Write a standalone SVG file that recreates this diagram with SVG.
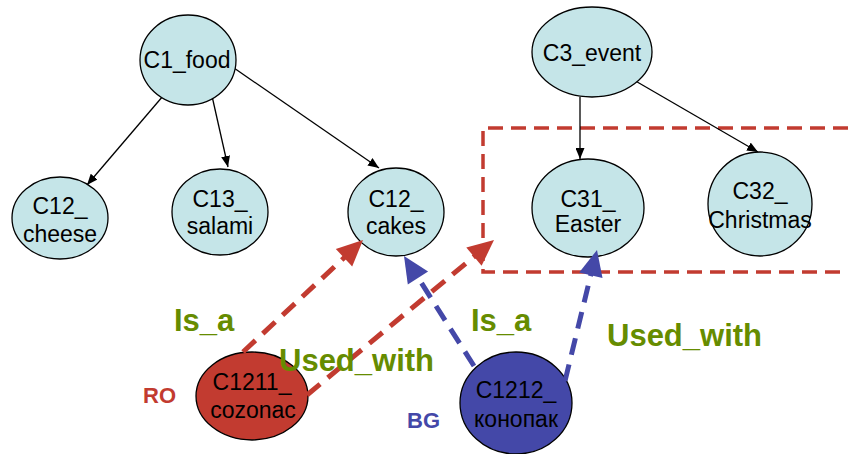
<svg xmlns="http://www.w3.org/2000/svg" width="848" height="454" viewBox="0 0 848 454">
<defs>
<marker id="blk" markerUnits="userSpaceOnUse" markerWidth="11" markerHeight="9" refX="11" refY="4.5" orient="auto">
<path d="M0,0 L11,4.5 L0,9 z" fill="#000"/>
</marker>
<style>
.n{fill:#C5E5E8;stroke:#000;stroke-width:1.3}
.nr{fill:#C23B30;stroke:#000;stroke-width:1.3}
.nb{fill:#4448A8;stroke:#000;stroke-width:1.3}
.t{font-family:"Liberation Sans",Arial,sans-serif;font-size:23px;fill:#000;text-anchor:middle}
.e{stroke:#000;stroke-width:1.3;fill:none;marker-end:url(#blk)}
.dr{stroke:#C23B30;stroke-width:5;fill:none;stroke-dasharray:17 10}
.db{stroke:#4448A8;stroke-width:5;fill:none;stroke-dasharray:17 10}
.hr{fill:#C23B30}
.hb{fill:#4448A8}
.lab{font-family:"Liberation Sans",Arial,sans-serif;font-weight:bold;font-size:31px;fill:#668C00}
.lang{font-family:"Liberation Sans",Arial,sans-serif;font-weight:bold;font-size:22px}
</style>
</defs>
<rect width="848" height="454" fill="#fff"/>
<path d="M848,128 H483 V272 H848" fill="none" stroke="#C23B30" stroke-width="3.5" stroke-dasharray="15 8"/>
<g id="tree-edges">
<line class="e" x1="163" y1="96" x2="87" y2="185"/>
<line class="e" x1="212" y1="96" x2="228" y2="167"/>
<line class="e" x1="234" y1="68" x2="379" y2="168"/>
<line class="e" x1="580" y1="97" x2="580" y2="159"/>
<line class="e" x1="620" y1="72" x2="758" y2="152"/>
</g>
<g id="C1_food"><ellipse class="n" cx="188" cy="60" rx="48" ry="45"/><text class="t" x="187" y="68">C1_food</text></g>
<g id="C12_cheese"><ellipse class="n" cx="60" cy="218" rx="48" ry="41"/><text class="t" x="60" y="214">C12_</text><text class="t" x="60" y="242">cheese</text></g>
<g id="C13_salami"><ellipse class="n" cx="220" cy="212" rx="48" ry="43"/><text class="t" x="220" y="207">C13_</text><text class="t" x="220" y="234">salami</text></g>
<g id="C12_cakes"><ellipse class="n" cx="396" cy="212" rx="48" ry="44"/><text class="t" x="396" y="207">C12_</text><text class="t" x="396" y="234">cakes</text></g>
<g id="C3_event"><ellipse class="n" cx="592" cy="52" rx="60" ry="45"/><text class="t" x="592" y="61">C3_event</text></g>
<g id="C31_Easter"><ellipse class="n" cx="588" cy="208" rx="56" ry="49"/><text class="t" x="588" y="207">C31_</text><text class="t" x="588" y="232">Easter</text></g>
<g id="C32_Christmas"><ellipse class="n" cx="760" cy="204" rx="52" ry="52"/><text class="t" x="760" y="199">C32_</text><text class="t" x="760" y="228">Christmas</text></g>
<g id="C1211_cozonac"><ellipse class="nr" cx="252" cy="396" rx="56" ry="44"/><text class="t" x="252" y="390">C1211_</text><text class="t" x="253" y="418">cozonac</text></g>
<g id="C1212_kononak"><ellipse class="nb" cx="516" cy="403" rx="56" ry="51"/><text class="t" x="516" y="398">C1212_</text><text class="t" x="516" y="427">конопак</text></g>
<g id="relations">
<line class="dr" x1="243" y1="352" x2="346" y2="256"/>
<polygon class="hr" points="363,240 352.2,266.5 335.8,249"/>
<line class="dr" x1="307" y1="395" x2="476" y2="255"/>
<polygon class="hr" points="494,240 481.6,265.8 466.3,247.4"/>
<line class="db" x1="474" y1="366" x2="417" y2="276"/>
<polygon class="hb" points="404,256 428.1,271.5 407.8,284.4"/>
<line class="db" x1="565" y1="381" x2="591" y2="274"/>
<polygon class="hb" points="597,250 602.5,278.1 579.2,272.4"/>
</g>
<g id="labels">
<text class="lab" x="174" y="331">Is_a</text>
<text class="lab" x="279" y="371">Used_with</text>
<text class="lab" x="471" y="331">Is_a</text>
<text class="lab" x="607" y="346">Used_with</text>
<text class="lang" x="143" y="403" fill="#C23B30">RO</text>
<text class="lang" x="407" y="428" fill="#4448A8">BG</text>
</g>
</svg>
